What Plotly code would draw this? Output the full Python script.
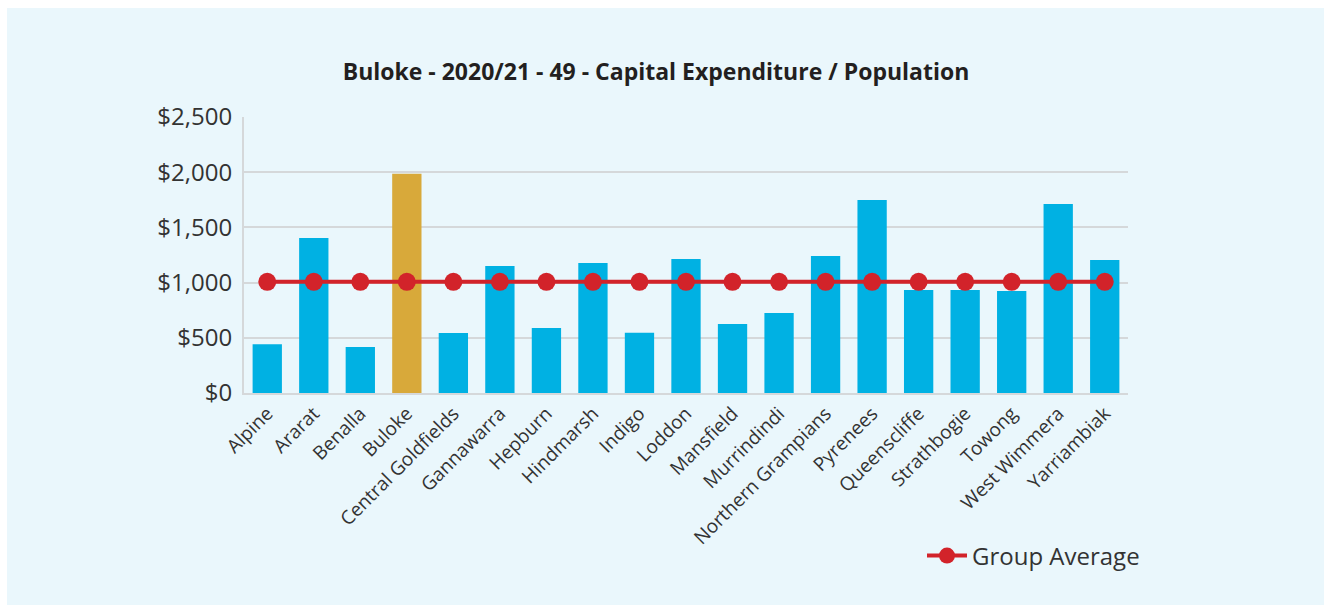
import plotly.graph_objects as go

categories = ["Alpine", "Ararat", "Benalla", "Buloke", "Central Goldfields", "Gannawarra",
              "Hepburn", "Hindmarsh", "Indigo", "Loddon", "Mansfield", "Murrindindi",
              "Northern Grampians", "Pyrenees", "Queenscliffe", "Strathbogie", "Towong",
              "West Wimmera", "Yarriambiak"]
values = [442, 1403, 417, 1985, 543, 1150, 589, 1178, 545, 1214, 625, 725, 1241, 1748,
          933, 933, 924, 1712, 1205]
group_average = [1007] * len(categories)
highlight = "Buloke"

BLUE = "#00B1E3"
GOLD = "#D8A93A"
RED = "#D2232A"
BG = "#EAF7FC"
GRID = "#D5D8DA"

bar_colors = [GOLD if c == highlight else BLUE for c in categories]

fig = go.Figure()
fig.add_trace(go.Bar(x=categories, y=values, marker=dict(color=bar_colors, line=dict(width=0)),
                     showlegend=False, hoverinfo="x+y"))
fig.add_trace(go.Scatter(x=categories, y=group_average, mode="lines+markers", name="Group Average",
                         line=dict(color=RED, width=4), marker=dict(color=RED, size=18)))

L, R, T, B = 244, 196, 117, 212
W, H = 1324, 605
pw, ph = W - L - R, H - T - B

def px_x(p):
    return (p - L) / pw

def px_y(p):
    return (H - B - p) / ph

fig.update_layout(
    width=W, height=H,
    margin=dict(l=L, r=R, t=T, b=B),
    paper_bgcolor=BG, plot_bgcolor=BG,
    bargap=0.37,
    title=dict(text="<b>Buloke - 2020/21 - 49 - Capital Expenditure / Population</b>",
               x=656 / W, xanchor="center", y=1 - 72 / H, yanchor="middle",
               font=dict(family="Open Sans", size=23, color="#231F20")),
    font=dict(family="Open Sans", color="#333333"),
    showlegend=True,
    legend=dict(x=px_x(922), xanchor="left", y=px_y(556), yanchor="middle",
                bgcolor="rgba(0,0,0,0)", font=dict(size=24, color="#333333"),
                itemwidth=40),
    shapes=[
        dict(type="rect", xref="paper", yref="paper", x0=px_x(0), x1=px_x(7),
             y0=px_y(H), y1=px_y(0), fillcolor="white", line=dict(width=0), layer="below"),
        dict(type="rect", xref="paper", yref="paper", x0=px_x(0), x1=px_x(W),
             y0=px_y(8), y1=px_y(0), fillcolor="white", line=dict(width=0), layer="below"),
    ],
)
fig.update_yaxes(range=[0, 2500], dtick=500, tickprefix="$", tickformat=",",
                 showgrid=True, gridcolor=GRID, gridwidth=2,
                 showline=True, linecolor=GRID, linewidth=2,
                 zeroline=False, ticklabelstandoff=5,
                 tickfont=dict(size=24, color="#333333"))
fig.update_xaxes(tickangle=-45, showline=True, linecolor=GRID, linewidth=2,
                 range=[-0.5, len(categories) - 0.5],
                 showgrid=False, tickfont=dict(size=19, color="#333333"))

fig.write_html("out.html")
